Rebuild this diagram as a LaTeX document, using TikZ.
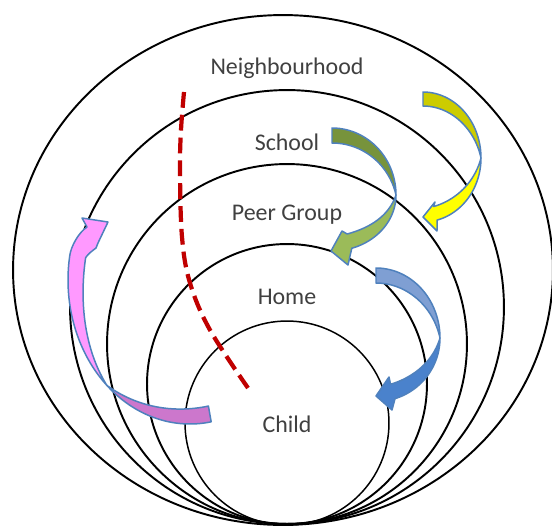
\documentclass[tikz,border=0pt]{standalone}
\usepackage{fontspec}
\setmainfont{Carlito}
\usetikzlibrary{shapes.geometric}
\definecolor{txt}{HTML}{404040}
\definecolor{dred}{HTML}{C00000}
\definecolor{aline}{HTML}{4F81BD}
\definecolor{ydark}{HTML}{CCCC00}
\definecolor{ylight}{HTML}{FFFF00}
\definecolor{gdark}{HTML}{77933C}
\definecolor{glight}{HTML}{9BBB59}
\definecolor{bdark}{HTML}{7F9FD3}
\definecolor{blight}{HTML}{4A82CC}
\definecolor{pdark}{HTML}{CC77CC}
\definecolor{plight}{HTML}{FF99FF}
\pgfkeys{/ca/.is family, /ca/.cd,
  cx/.store in=\CAcx, cy/.store in=\CAcy, rx/.store in=\CArx,
  rya/.store in=\CAryA, ryb/.store in=\CAryB, w/.store in=\CAw,
  ta/.store in=\CAta, tm/.store in=\CAtm, tb/.store in=\CAtb,
  dark/.store in=\CAdark, light/.store in=\CAlight, head/.store in=\CAhead}
% curved ribbon arrow: dark (back) part from tail to twist, light (front) part from twist to head
\newcommand\curvedarrow[1]{%
  \begingroup
  \pgfkeys{/ca/.cd,#1}%
  \filldraw[apart, fill=\CAdark]
    plot[domain=\CAta:\CAtm, samples=40, variable=\s]
      ({\CAcx+\CArx*cos(\s)},{\CAcy-\CAryA*sin(\s)})
    -- plot[domain=\CAtm:\CAta, samples=40, variable=\s]
      ({\CAcx+(\CArx-\CAw*sin(90*(\s-\CAtm)/(\CAta-\CAtm)))*cos(\s)},
       {\CAcy-(\CAryA-\CAw*sin(90*(\s-\CAtm)/(\CAta-\CAtm)))*sin(\s)})
    -- cycle;
  \filldraw[apart, fill=\CAlight]
    plot[domain=\CAtm:\CAtb, samples=40, variable=\s]
      ({\CAcx+\CArx*cos(\s)},{\CAcy-\CAryB*sin(\s)})
    \CAhead
    -- plot[domain=\CAtb:\CAtm, samples=40, variable=\s]
      ({\CAcx+(\CArx-\CAw*sin(90*(\CAtm-\s)/(\CAtm-\CAtb)))*cos(\s)},
       {\CAcy-(\CAryB-\CAw*sin(90*(\CAtm-\s)/(\CAtm-\CAtb)))*sin(\s)})
    -- cycle;
  \endgroup}
\begin{document}
\begin{tikzpicture}[x=0.02cm, y=-0.02cm,
  ring/.style={draw=black, line width=1.1pt, inner sep=0pt, circle},
  lbl/.style={text=txt, font=\fontsize{13.6}{16}\selectfont, anchor=base, inner sep=0pt},
  apart/.style={draw=aline, line width=0.85pt, line join=round},
  redline/.style={dred, line width=2.4pt, dash pattern=on 9pt off 4pt}
  ]
\useasboundingbox (0,0) rectangle (552,525);
\clip (0,0) rectangle (552,525);
\fill[white] (0,0) rectangle (552,525);

% nested rings
\node[ring, ellipse, minimum width=10.8cm, minimum height=10.2cm] (neigh) at (283,270) {};
\node[ring, minimum size=8.68cm] (school) at (287,307) {};
\node[ring, minimum size=7.2cm] (peer) at (287,344) {};
\node[ring, minimum size=5.6cm] (home) at (287,384) {};
\node[ring, minimum size=4.08cm, line width=0.85pt] (child) at (287,423) {};

% labels
\node[lbl] (tneigh) at (287,74) {Neighbourhood};
\node[lbl] (tschool) at (287,150) {School};
\node[lbl] (tpeer) at (287,220) {Peer Group};
\node[lbl] (thome) at (287,304) {Home};
\node[lbl] (tchild) at (287,432) {Child};

% red dashed boundary
\draw[redline] plot[smooth, tension=0.6] coordinates {(184,92) (181,130) (180,170) (182,237) (190,283) (210,330) (248,388)};

% yellow: Neighbourhood -> Peer Group
\curvedarrow{cx=423, cy=158, rx=58, rya=66, ryb=64, w=14, ta=90, tm=0, tb=-76,
  dark=ydark, light=ylight, head={-- (437,231) -- (423,217) -- (435,202)}}
% green: School -> Home
\curvedarrow{cx=332, cy=195, rx=64, rya=67, ryb=56, w=15, ta=90, tm=0, tb=-72,
  dark=gdark, light=glight, head={-- (348,265) -- (331,251) -- (342,231)}}
% blue: Home -> Child
\curvedarrow{cx=376, cy=338, rx=64, rya=70, ryb=63.5, w=15, ta=90, tm=0, tb=-72.7,
  dark=bdark, light=blight, head={-- (392,410) -- (376,396) -- (389,377)}}
% pink: Child -> School
\curvedarrow{cx=190, cy=280, rx=122, rya=144, ryb=144, w=16, ta=280, tm=227, tb=170,
  dark=pdark, light=plight,
  head={.. controls (71,247) and (78,233) .. (87,227) -- (82,218) -- (108,222) -- (98,243) -- (96,248) .. controls (92,251) and (88,254) .. (85.6,257.7)}}
\end{tikzpicture}
\end{document}
